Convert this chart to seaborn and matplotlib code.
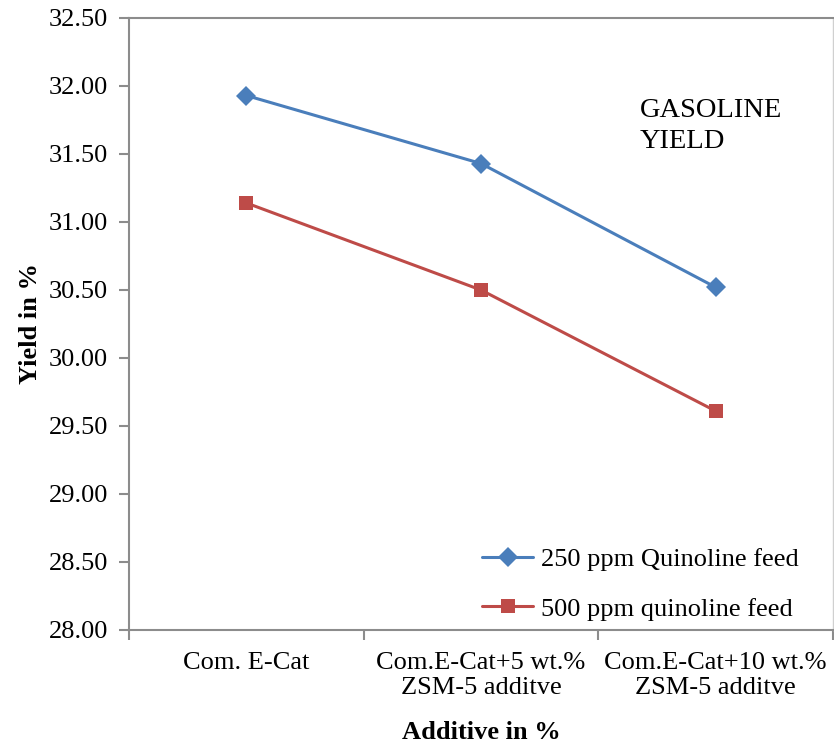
import matplotlib
matplotlib.use("Agg")
import matplotlib.pyplot as plt
from matplotlib.ticker import FixedLocator, NullFormatter
import seaborn as sns
import pandas as pd

categories = ["Com. E-Cat", "Com.E-Cat+5 wt.%\nZSM-5 additve", "Com.E-Cat+10 wt.%\nZSM-5 additve"]
series_names = ["250 ppm Quinoline feed", "500 ppm quinoline feed"]
yield_250 = [31.93, 31.43, 30.52]
yield_500 = [31.14, 30.50, 29.61]
y_ticks = [28.0, 28.5, 29.0, 29.5, 30.0, 30.5, 31.0, 31.5, 32.0, 32.5]

df = pd.DataFrame({
    "pos": list(range(len(categories))) * 2,
    "Yield": yield_250 + yield_500,
    "Series": [series_names[0]] * 3 + [series_names[1]] * 3,
})

sns.set_style("white")
plt.rcParams["font.family"] = ["Liberation Serif", "DejaVu Serif"]
plt.rcParams["text.color"] = "black"
plt.rcParams["axes.labelcolor"] = "black"
plt.rcParams["xtick.color"] = "black"
plt.rcParams["ytick.color"] = "black"

FS = 19

fig = plt.figure(figsize=(8.34, 7.46), dpi=100)
ax = fig.add_axes([129 / 834, 1 - 630 / 746, (833 - 129) / 834, (630 - 18) / 746])

palette = {series_names[0]: "#4A7EBB", series_names[1]: "#BE4B48"}
markers = {series_names[0]: "D", series_names[1]: "s"}
sns.lineplot(data=df, x="pos", y="Yield", hue="Series", style="Series",
             palette=palette, markers=markers, dashes=False, markersize=10,
             markeredgewidth=0, linewidth=2.2, ax=ax, legend=True)

ax.set_xlim(-0.5, 2.5)
ax.set_ylim(28.0, 32.5)
ax.set_yticks(y_ticks)
ax.set_yticklabels([f"{v:.2f}" for v in y_ticks], fontsize=FS)
ax.set_xticks(range(len(categories)))
ax.set_xticklabels(categories, fontsize=FS, linespacing=1.15)
ax.xaxis.set_minor_locator(FixedLocator([-0.5, 0.5, 1.5, 2.5]))
ax.xaxis.set_minor_formatter(NullFormatter())
ax.tick_params(axis="x", which="major", bottom=True, length=0, pad=16, labelcolor="black")
ax.tick_params(axis="x", which="minor", bottom=True, length=7, width=1.5,
               color="#8C8C8C", direction="out")
ax.tick_params(axis="y", which="major", left=True, length=7, width=1.5,
               color="#8C8C8C", direction="out", pad=8, labelcolor="black")

for side in ("left", "bottom", "top"):
    ax.spines[side].set_color("#8C8C8C")
    ax.spines[side].set_linewidth(1.5)
ax.spines["right"].set_color("#D0D0D0")
ax.spines["right"].set_linewidth(1.0)

ax.set_xlabel("Additive in %", fontsize=FS, fontweight="bold", labelpad=16)
ax.set_ylabel("Yield in %", fontsize=FS, fontweight="bold", labelpad=5)

ax.text(0.725, 0.87, "GASOLINE\nYIELD", transform=ax.transAxes, fontsize=20.5,
        va="top", ha="left", linespacing=1.35)

ax.legend(loc="lower right", bbox_to_anchor=(0.977, -0.015), frameon=False,
          fontsize=FS, handlelength=1.95, handletextpad=0.27, labelspacing=1.0,
          borderaxespad=0.3)

fig.savefig("out.png", dpi=100)
